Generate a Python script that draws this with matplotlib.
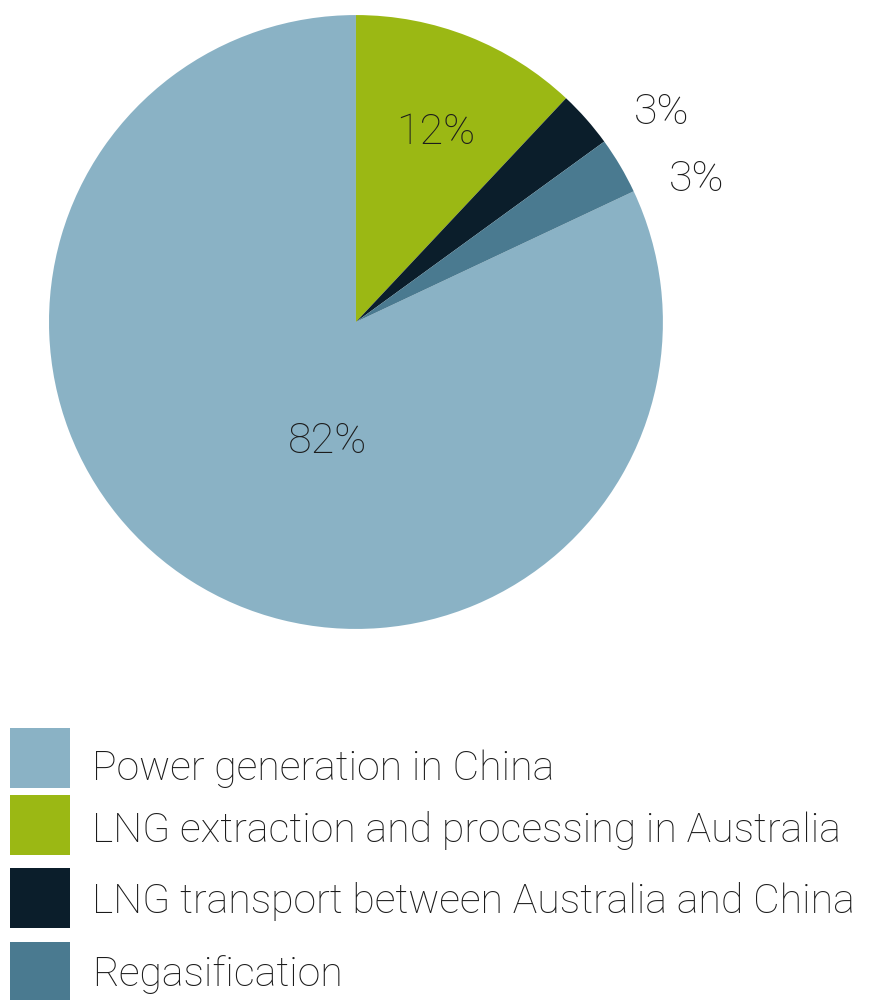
import matplotlib.pyplot as plt
from matplotlib.patches import Rectangle

# legend order
categories = ["Power generation in China",
              "LNG extraction and processing in Australia",
              "LNG transport between Australia and China",
              "Regasification"]
shares = [82, 12, 3, 3]
colors = ["#8AB2C5", "#9BB814", "#0B1E2B", "#4A7A90"]

plt.rcParams['font.family'] = ['Roboto', 'DejaVu Sans']
text_color = "#1c1c1c"

fig = plt.figure(figsize=(8.72, 10), dpi=100)

# pie: blue wedge first, rotated so the green wedge starts at 12 o'clock
ax = fig.add_axes([0.0562, 0.371, 0.704, 0.614])
start = 90 + 360 * shares[0] / sum(shares)
wedges, _ = ax.pie(shares, colors=colors, startangle=start, counterclock=False,
                   wedgeprops=dict(linewidth=0))
ax.set_xlim(-1, 1)
ax.set_ylim(-1, 1)
ax.set_aspect('equal')

# percentage labels (inside for the big ones, outside for the slim ones)
label_pos = [(-0.094, -0.388), (0.261, 0.619), (0.997, 0.681), (1.111, 0.463)]
for s, (x, y) in zip(shares, label_pos):
    ax.text(x, y, f"{s}%", ha='center', va='center', fontsize=31,
            fontweight='light', color=text_color)

# legend drawn by hand in pixel-like coords
lax = fig.add_axes([0, 0, 1, 0.3])
lax.set_xlim(0, 872)
lax.set_ylim(300, 0)
lax.axis('off')
row_top = [28, 95, 168, 242]
baselines = [80, 142, 213, 286]
for cat, col, top, base in zip(categories, colors, row_top, baselines):
    lax.add_patch(Rectangle((10, top), 60, 60, color=col, lw=0))
    lax.text(92, base, cat, ha='left', va='baseline', fontsize=29.5,
             fontweight='light', color=text_color)

fig.savefig("out.png", dpi=100)
